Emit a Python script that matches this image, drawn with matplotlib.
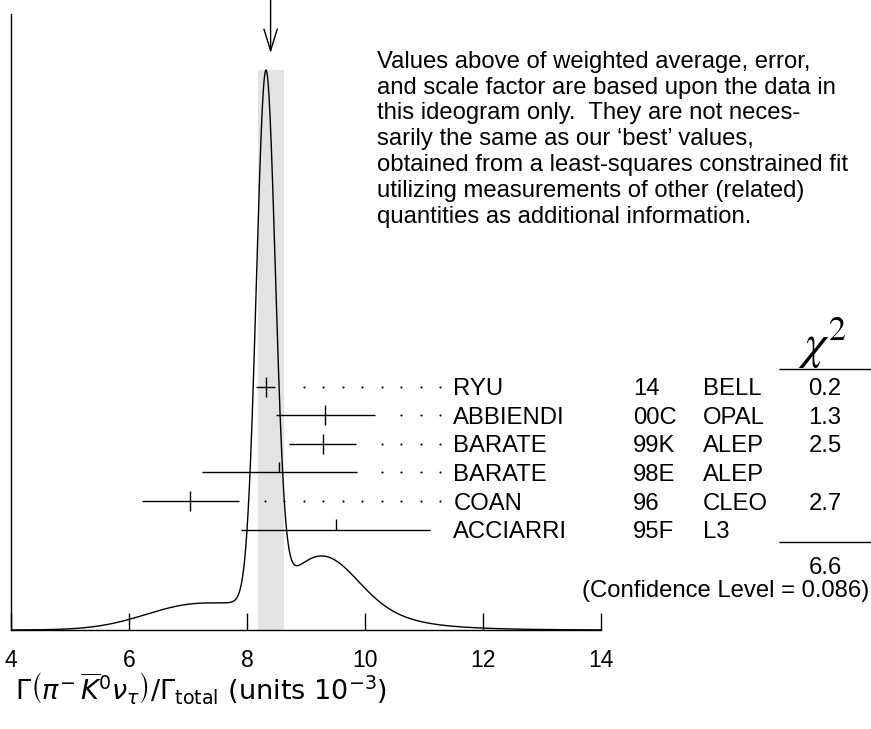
import numpy as np
import matplotlib
matplotlib.use('Agg')
import matplotlib.pyplot as plt

# ---------------- data ----------------
names = ['RYU', 'ABBIENDI', 'BARATE', 'BARATE', 'COAN', 'ACCIARRI']
years = ['14', '00C', '99K', '98E', '96', '95F']
experiments = ['BELL', 'OPAL', 'ALEP', 'ALEP', 'CLEO', 'L3']
values = [8.32, 9.33, 9.28, 8.55, 7.04, 9.50]
errors = [0.16, 0.84, 0.56, 1.31, 0.82, 1.60]
used = [True, True, True, False, True, False]
chi2 = ['0.2', '1.3', '2.5', '', '2.7', '']
chi2_total = '6.6'
confidence_level = '0.086'
average = 8.40
average_error = 0.22
xticks = [4, 6, 8, 10, 12, 14]
note_lines = [
    "Values above of weighted average, error,",
    "and scale factor are based upon the data in",
    "this ideogram only.  They are not neces-",
    "sarily the same as our \u2018best\u2019 values,",
    "obtained from a least-squares constrained fit",
    "utilizing measurements of other (related)",
    "quantities as additional information.",
]

# ---------------- layout ----------------
W, H = 871, 729
plt.rcParams['font.family'] = ['Liberation Sans', 'DejaVu Sans']
plt.rcParams['mathtext.fontset'] = 'dejavusans'

fig = plt.figure(figsize=(W / 100, H / 100), dpi=100)
# axes: x 4..14 at px 11..601, y in px above baseline (px 630), top at px 14
ax = fig.add_axes([11 / W, (H - 630) / H, 590 / W, 616 / H])
ax.set_xlim(4, 14)
ax.set_ylim(0, 616)

PX = 10 / 590.0  # data units per pixel in x


def px2x(px):
    return 4 + (px - 11) * PX


fs = 17.2
cap = 0.716 * fs * 100 / 72 / 2  # half cap height in px

for s in ['top', 'right']:
    ax.spines[s].set_visible(False)
for s in ['left', 'bottom']:
    ax.spines[s].set_linewidth(1.0)
ax.set_yticks([])
ax.set_xticks(xticks)
ax.set_xticklabels([str(t) for t in xticks], fontsize=16.5)
ax.tick_params(axis='x', direction='in', length=12.2, width=1.0, pad=14.0)

# ideogram
peak_height = 560
xs = np.linspace(4, 14, 3000)
ys = np.zeros_like(xs)
for v, e in zip(values, errors):
    ys += (1.0 / e) * np.exp(-0.5 * ((xs - v) / e) ** 2) / e
ys = ys / ys.max() * peak_height
ax.axvspan(average - average_error, average + average_error, ymin=0,
           ymax=peak_height / 616, color='#e3e3e3', lw=0, zorder=0)
ax.plot(xs, ys, color='k', lw=1.0, zorder=3)

# arrow to the average
ax.annotate('', xy=(average, 630 - 53), xytext=(average, 632),
            arrowprops=dict(arrowstyle='->,head_length=1.55,head_width=0.48',
                            lw=1.0, color='k', shrinkA=0, shrinkB=0,
                            mutation_scale=10),
            annotation_clip=False)

# measurements
row0, drow = 630 - 386.5, 28.65
dot_last, dot_step = px2x(440), 19.44 * PX
x_lab, x_year, x_exp, x_chi = px2x(453.3), px2x(632.7), px2x(703), px2x(825)
for i, (v, e) in enumerate(zip(values, errors)):
    y = row0 - i * drow
    ax.hlines(y, v - e, v + e, color='k', lw=1.0, zorder=4)
    if used[i]:
        ax.vlines(v, y - 10, y + 10, color='k', lw=1.0, zorder=4)
    else:
        ax.vlines(v, y, y + 10.5, color='k', lw=1.0, zorder=4)
    dx = []
    xd = dot_last
    while xd > v + e + 0.25:
        dx.append(xd)
        xd -= dot_step
    if dx:
        ax.plot(dx, [y] * len(dx), 'o', color='k', ms=1.5, mew=0, zorder=4)
    yb = y - cap
    ax.text(x_lab, yb, names[i], fontsize=fs, ha='left', va='baseline', clip_on=False)
    ax.text(x_year, yb, years[i], fontsize=fs, ha='left', va='baseline', clip_on=False)
    ax.text(x_exp, yb, experiments[i], fontsize=fs, ha='left', va='baseline', clip_on=False)
    if chi2[i]:
        ax.text(x_chi, yb, chi2[i], fontsize=fs, ha='center', va='baseline', clip_on=False)

# chi2 column header and total
ax.text(px2x(822), 630 - 343, r'$\chi^2$', fontsize=35, ha='center', va='center',
        clip_on=False, math_fontfamily='stix')
ax.hlines([630 - 369, 630 - 542], px2x(779), px2x(871), color='k', lw=1.0,
          clip_on=False)
ax.text(x_chi, 630 - 565 - cap, chi2_total, fontsize=fs, ha='center', va='baseline',
        clip_on=False)
ax.text(px2x(869), 630 - 588 - cap, '(Confidence Level = %s)' % confidence_level,
        fontsize=fs, ha='right', va='baseline', clip_on=False)

# note text
for k, line in enumerate(note_lines):
    ax.text(px2x(376.7), 630 - (68 + k * 25.75), line, fontsize=fs,
            ha='left', va='baseline', clip_on=False)

# x label
fig.text(15 / W, (H - 700) / H,
         r'$\Gamma\left(\pi^{-}\,\overline{K}^{0}\nu_{\tau}\right)/\Gamma_{\rm total}$ (units $10^{-3}$)',
         fontsize=19.5, ha='left', va='baseline', family='DejaVu Sans')

fig.savefig('out.png', dpi=100)
